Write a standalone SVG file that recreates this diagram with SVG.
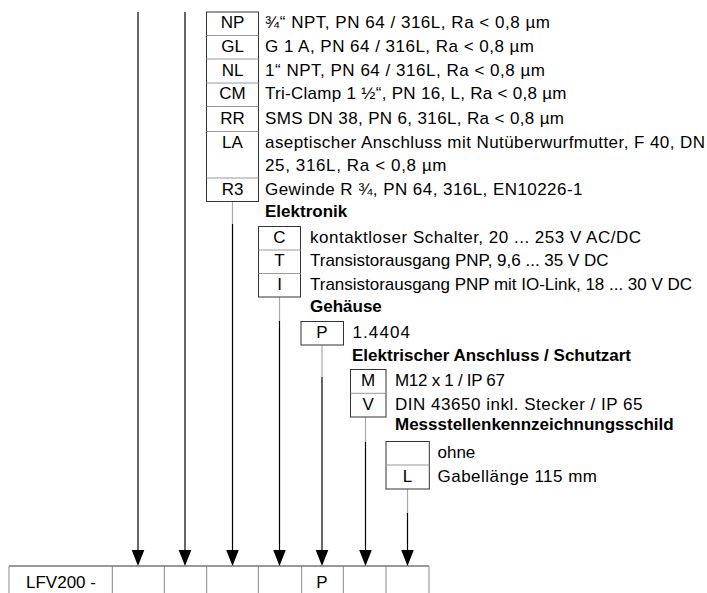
<svg xmlns="http://www.w3.org/2000/svg" width="707" height="593" viewBox="0 0 707 593">
<style>
text{font-family:"Liberation Sans",Arial,sans-serif;font-size:17px;fill:#000}
.h{font-weight:bold}
.c{text-anchor:middle}
.box{fill:#fff;stroke:#333;stroke-width:1}
.div{stroke:#999;stroke-width:1}
.ln{stroke:#000;stroke-width:1.2;fill:none}
.gl{stroke:#aaa;stroke-width:1.2;fill:none}
.cell{stroke:#888;stroke-width:1}
.ar{fill:#000}
</style>

<g id="connectors">
<line class="ln" x1="138" y1="12" x2="138" y2="550"/>
<path class="ar" d="M131.7,550 L144.3,550 L138,566 Z"/>
<line class="ln" x1="185" y1="12" x2="185" y2="550"/>
<path class="ar" d="M178.7,550 L191.3,550 L185,566 Z"/>
<line class="gl" x1="232.5" y1="201.5" x2="232.5" y2="224"/>
<line class="ln" x1="232.5" y1="224" x2="232.5" y2="550"/>
<path class="ar" d="M226.2,550 L238.8,550 L232.5,566 Z"/>
<line class="gl" x1="279.5" y1="297" x2="279.5" y2="321"/>
<line class="ln" x1="279.5" y1="321" x2="279.5" y2="550"/>
<path class="ar" d="M273.2,550 L285.8,550 L279.5,566 Z"/>
<line class="gl" x1="322" y1="345" x2="322" y2="377"/>
<line class="ln" x1="322" y1="377" x2="322" y2="550"/>
<path class="ar" d="M315.7,550 L328.3,550 L322,566 Z"/>
<line class="gl" x1="365.5" y1="417" x2="365.5" y2="442"/>
<line class="ln" x1="365.5" y1="442" x2="365.5" y2="550"/>
<path class="ar" d="M359.2,550 L371.8,550 L365.5,566 Z"/>
<line class="gl" x1="407.5" y1="489" x2="407.5" y2="513"/>
<line class="ln" x1="407.5" y1="513" x2="407.5" y2="550"/>
<path class="ar" d="M401.2,550 L413.8,550 L407.5,566 Z"/>
</g>

<g id="prozessanschluss">
<rect class="box" x="206.5" y="12" width="52" height="189.5"/>
<line class="div" x1="206.5" y1="35.5" x2="258.5" y2="35.5"/>
<line class="div" x1="206.5" y1="59" x2="258.5" y2="59"/>
<line class="div" x1="206.5" y1="83" x2="258.5" y2="83"/>
<line class="div" x1="206.5" y1="106.5" x2="258.5" y2="106.5"/>
<line class="div" x1="206.5" y1="131.5" x2="258.5" y2="131.5"/>
<line class="div" x1="206.5" y1="178" x2="258.5" y2="178"/>
<text class="c" x="232.5" y="28">NP</text>
<text class="c" x="232.5" y="51.5">GL</text>
<text class="c" x="232.5" y="75.5">NL</text>
<text class="c" x="232.5" y="99">CM</text>
<text class="c" x="232.5" y="124">RR</text>
<text class="c" x="232.5" y="148">LA</text>
<text class="c" x="232.5" y="195">R3</text>
<text x="265" y="28" textLength="285" lengthAdjust="spacing">¾“ NPT, PN 64 / 316L, Ra &lt; 0,8 µm</text>
<text x="265" y="51.5" textLength="269" lengthAdjust="spacing">G 1 A, PN 64 / 316L, Ra &lt; 0,8 µm</text>
<text x="265" y="75.5" textLength="280" lengthAdjust="spacing">1“ NPT, PN 64 / 316L, Ra &lt; 0,8 µm</text>
<text x="265" y="99" textLength="301.5" lengthAdjust="spacing">Tri-Clamp 1 ½“, PN 16, L, Ra &lt; 0,8 µm</text>
<text x="265" y="124" textLength="299" lengthAdjust="spacing">SMS DN 38, PN 6, 316L, Ra &lt; 0,8 µm</text>
<text x="265" y="148" textLength="440" lengthAdjust="spacing">aseptischer Anschluss mit Nutüberwurfmutter, F 40, DN</text>
<text x="265" y="171" textLength="181.5" lengthAdjust="spacing">25, 316L, Ra &lt; 0,8 µm</text>
<text x="265" y="195" textLength="317.5" lengthAdjust="spacing">Gewinde R ¾, PN 64, 316L, EN10226-1</text>
</g>

<g id="elektronik">
<text class="h" x="265" y="217">Elektronik</text>
<rect class="box" x="258.5" y="226.5" width="42" height="70.5"/>
<line class="div" x1="258.5" y1="250" x2="300.5" y2="250"/>
<line class="div" x1="258.5" y1="273.5" x2="300.5" y2="273.5"/>
<text class="c" x="279.5" y="242.5">C</text>
<text class="c" x="279.5" y="266">T</text>
<text class="c" x="279.5" y="289.5">I</text>
<text x="310" y="242.5" textLength="331" lengthAdjust="spacing">kontaktloser Schalter, 20 ... 253 V AC/DC</text>
<text x="310" y="266">Transistorausgang PNP, 9,6 ... 35 V DC</text>
<text x="310" y="289.5" textLength="382" lengthAdjust="spacing">Transistorausgang PNP mit IO-Link, 18 ... 30 V DC</text>
</g>

<g id="gehaeuse">
<text class="h" x="310" y="312">Gehäuse</text>
<rect class="box" x="301" y="321.5" width="42.5" height="23.5"/>
<text class="c" x="322" y="338">P</text>
<text x="352.5" y="338" textLength="57.5" lengthAdjust="spacing">1.4404</text>
</g>

<g id="anschluss">
<text class="h" x="352" y="361">Elektrischer Anschluss / Schutzart</text>
<rect class="box" x="350.5" y="369.5" width="35.5" height="47.5"/>
<line class="div" x1="350.5" y1="393.3" x2="386" y2="393.3"/>
<text class="c" x="368.2" y="386">M</text>
<text class="c" x="368.2" y="409.5">V</text>
<text x="395" y="386" textLength="110" lengthAdjust="spacing">M12 x 1 / IP 67</text>
<text x="395" y="409.5" textLength="247.5" lengthAdjust="spacing">DIN 43650 inkl. Stecker / IP 65</text>
</g>

<g id="schild">
<text class="h" x="395" y="430">Messstellenkennzeichnungsschild</text>
<rect class="box" x="386" y="441.5" width="43.3" height="47.5"/>
<line class="div" x1="386" y1="465" x2="429.3" y2="465"/>
<text class="c" x="407.6" y="481.5">L</text>
<text x="437.5" y="458">ohne</text>
<text x="437.5" y="481.5" textLength="159.5" lengthAdjust="spacing">Gabellänge 115 mm</text>
</g>

<g id="typcode">
<line x1="9" y1="566" x2="429" y2="566" stroke="#333" stroke-width="1.2"/>
<line class="cell" x1="9" y1="566" x2="9" y2="593"/>
<line class="cell" x1="112.3" y1="566" x2="112.3" y2="593"/>
<line class="cell" x1="164.3" y1="566" x2="164.3" y2="593"/>
<line class="cell" x1="206.7" y1="566" x2="206.7" y2="593"/>
<line class="cell" x1="258.3" y1="566" x2="258.3" y2="593"/>
<line class="cell" x1="301.7" y1="566" x2="301.7" y2="593"/>
<line class="cell" x1="343.3" y1="566" x2="343.3" y2="593"/>
<line class="cell" x1="386" y1="566" x2="386" y2="593"/>
<line class="cell" x1="429" y1="566" x2="429" y2="593"/>
<text x="26" y="588">LFV200 -</text>
<text class="c" x="322" y="588">P</text>
</g>
</svg>
